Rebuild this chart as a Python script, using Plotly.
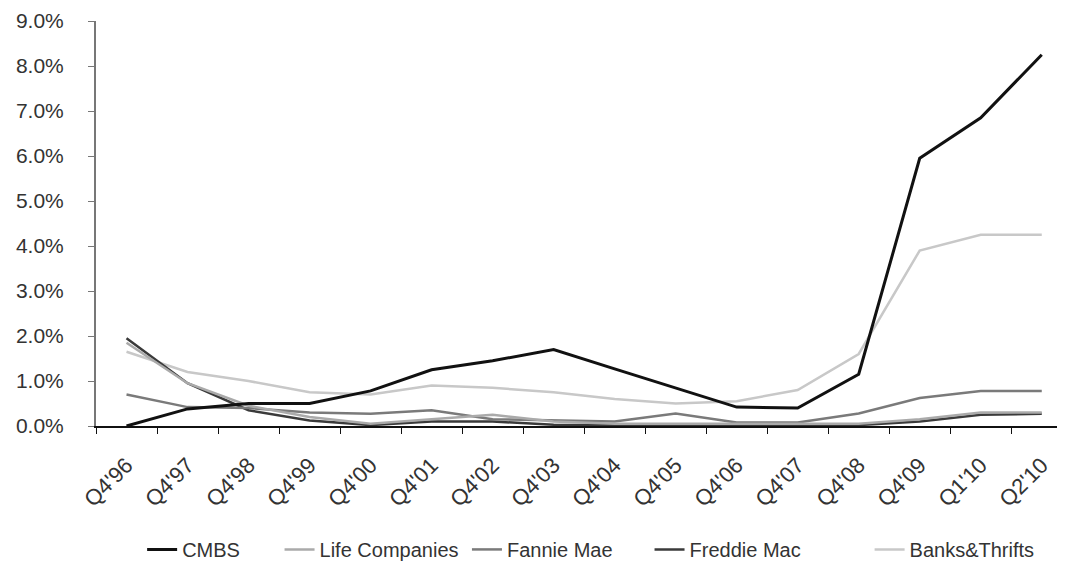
import plotly.graph_objects as go

quarters = ["Q4'96", "Q4'97", "Q4'98", "Q4'99", "Q4'00", "Q4'01", "Q4'02", "Q4'03",
            "Q4'04", "Q4'05", "Q4'06", "Q4'07", "Q4'08", "Q4'09", "Q1'10", "Q2'10"]

cmbs = [0.0, 0.38, 0.5, 0.5, 0.78, 1.25, 1.45, 1.7, 1.27, 0.85, 0.42, 0.4, 1.15, 5.95, 6.85, 8.25]
life_companies = [1.85, 0.95, 0.45, 0.2, 0.05, 0.15, 0.25, 0.1, 0.05, 0.05, 0.05, 0.05, 0.05, 0.15, 0.3, 0.3]
fannie_mae = [0.7, 0.42, 0.4, 0.3, 0.27, 0.35, 0.15, 0.12, 0.1, 0.28, 0.08, 0.08, 0.28, 0.62, 0.78, 0.78]
freddie_mac = [1.95, 0.95, 0.35, 0.12, 0.02, 0.1, 0.1, 0.03, 0.02, 0.02, 0.03, 0.03, 0.02, 0.1, 0.25, 0.27]
banks_thrifts = [1.65, 1.2, 1.0, 0.75, 0.7, 0.9, 0.85, 0.75, 0.6, 0.5, 0.55, 0.8, 1.6, 3.9, 4.25, 4.25]

series = [
    ("CMBS", cmbs, "#111111", 3, "legend", 0.048),
    ("Life Companies", life_companies, "#aaaaaa", 2.5, "legend2", 0.191),
    ("Fannie Mae", fannie_mae, "#7a7a7a", 2.5, "legend3", 0.386),
    ("Freddie Mac", freddie_mac, "#3a3a3a", 2.5, "legend4", 0.576),
    ("Banks&Thrifts", banks_thrifts, "#c8c8c8", 2.5, "legend5", 0.805),
]

fig = go.Figure()
# draw light ones first, CMBS on top
for name, vals, color, w, leg, lx in reversed(series):
    fig.add_trace(go.Scatter(x=quarters, y=vals, name=name, mode="lines",
                             line=dict(color=color, width=w), legend=leg))

legend_layout = {}
for name, vals, color, w, leg, lx in series:
    legend_layout[leg] = dict(orientation="h", x=lx, y=0.068, yref="container",
                              xanchor="left", yanchor="top",
                              font=dict(size=20), bgcolor="rgba(0,0,0,0)")

# the page body adds an 8px margin, so the figure is 8px smaller than the window
fig.update_layout(
    width=1059, height=560,
    margin=dict(l=88, r=10, t=13, b=142, autoexpand=False),
    paper_bgcolor="white", plot_bgcolor="white",
    font=dict(family="Liberation Sans, Arial, sans-serif", size=19, color="#333333"),
    showlegend=True,
    **legend_layout,
)
fig.update_xaxes(type="category", range=[-0.5, 15.25], showgrid=False, automargin=False,
                 showline=True, linecolor="#111111", linewidth=1.5,
                 ticks="outside", tickson="boundaries", ticklen=6, tickcolor="#111111",
                 tickangle=-45, tickfont=dict(size=22), ticklabelstandoff=16)
fig.update_yaxes(range=[0, 9], dtick=1, tickformat=".1f", ticksuffix="%", automargin=False,
                 showgrid=False, zeroline=False,
                 showline=True, linecolor="#777777", linewidth=2,
                 ticks="outside", ticklen=6, tickcolor="#777777",
                 tickfont=dict(size=21), ticklabelstandoff=20)

fig.write_html("out.html")
